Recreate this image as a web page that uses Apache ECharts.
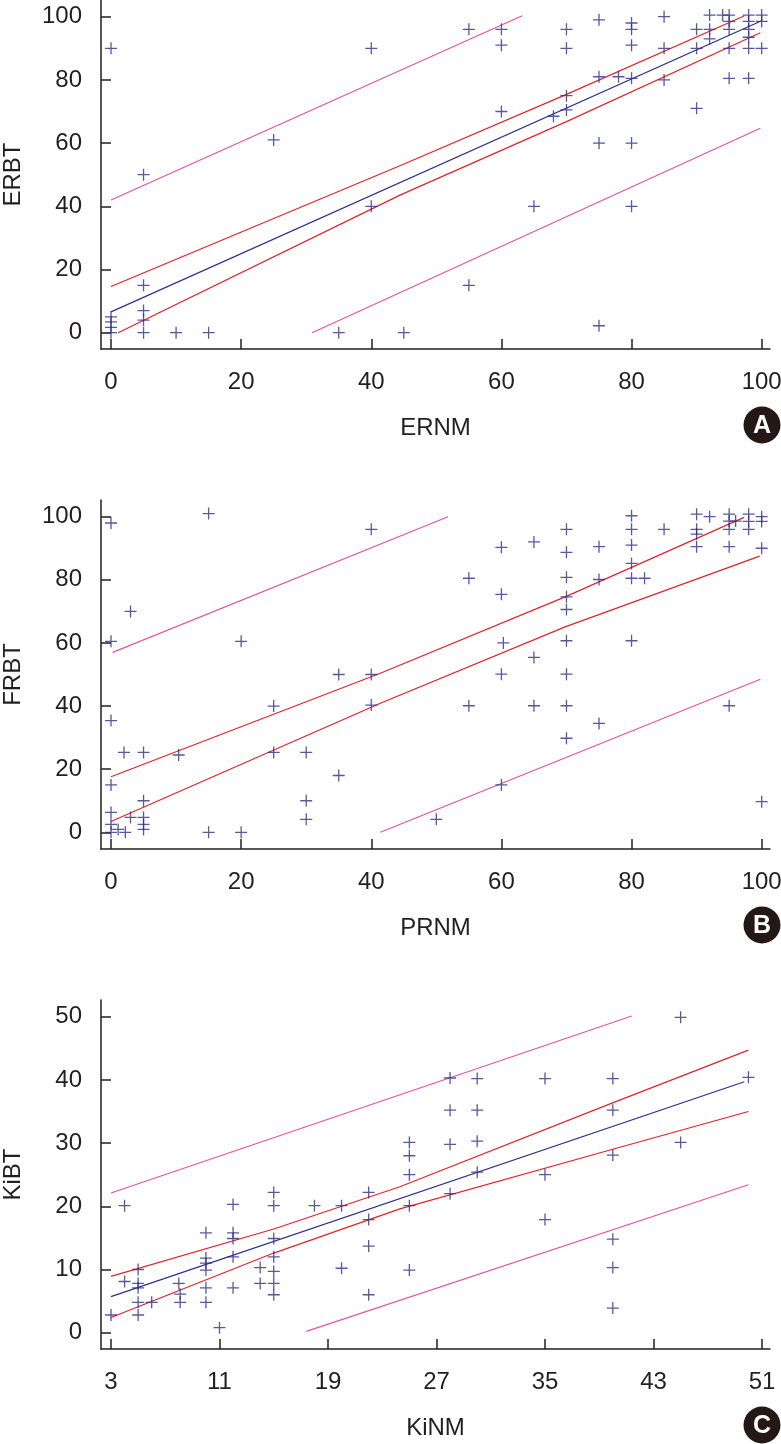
<!DOCTYPE html>
<html>
<head>
<meta charset="utf-8">
<script src="https://cdn.jsdelivr.net/npm/echarts@6/dist/echarts.min.js"></script>
<style>
  html, body { margin: 0; padding: 0; background: #ffffff; }
  #chart { width: 781px; height: 1444px; }
</style>
</head>
<body>
<div id="chart"></div>
<script>
// ---------- Panel A: ERNM vs ERBT ----------
const erNM = [0,40,25,5,5,0,0,0,0,5,5,5,10,15,35,40,
  55,60,60,60,70,70,70,70,68,75,75,78,80,80,80,80,75,80,80,65,55,75,45,
  85,85,85,90,90,90,92,92,92,94,95,95,95,95,95,98,98,98,98,98,98,100,100,100];
const erBT = [90,90,61,50,15,5,3.4,1.7,0,7,4,0,0,0,0,40,
  96,96,91,70,96,90,75,70.5,68.5,99,81,81,98,96,91,80.5,60,60,40,40,15,2.2,0,
  100,90,80,96,90,71,100.5,96,93,100.5,100.5,98.5,96,90,80.5,100.5,98.5,96,93.5,90,80.5,100.5,98.5,90];
const erFit = [[0,6.6],[100,98.7]];
const erCiUpper = [[0,14.6],[44.5,52.9],[70,75.4],[97.3,100.2]];
const erCiLower = [[1.1,0],[44.5,43.6],[70,66.8],[99.8,94.9]];
const erPiUpper = [[0,42],[63.2,100.3]];
const erPiLower = [[30.9,0],[99.8,64.7]];
const erTicksX = [0,20,40,60,80,100];
const erTicksY = [0,20,40,60,80,100];

// ---------- Panel B: PRNM vs FRBT ----------
const prNM = [0,15,40,3,0,20,35,40,25,40,0,2,5,10.4,25,30,35,0,5,30,0,3,5,30,0,5,1.1,5,0,2.2,15,20,
  80,80,80,80,80,80,82,70,70,70,70,70,70,70,70,70,65,65,65,60,60,60.3,60,60,55,55,50,75,75,75,
  85,90,90,90,90,92,95,95,95,95,95,96,98,98,98,100,100,100,100];
const frBT = [98,101,96,70,60.5,60.5,50,50,40,40.3,35.4,25.3,25.3,24.5,25.3,25.3,18,15,10,10,6.3,4.7,4.7,4.1,2.5,2.5,0.9,0.9,0,0,0,0,
  100.3,96,91,85.2,80.5,60.7,80.5,96,88.7,80.8,74.6,70.6,60.7,50.1,40.1,29.8,92,55.4,40.1,90.3,75.4,60,50.1,15,80.5,40.1,4.1,90.5,80.1,34.5,
  96,100.8,96,94.5,90.5,100,100.8,98.6,96,90.5,40.1,98.6,100.8,98.5,96,100,98.5,90,9.7];
const prCiUpper = [[0,17.6],[41.4,50.4],[69.8,74.6],[97.3,99.8]];
const prCiLower = [[0,3.4],[41.4,40.9],[69.8,65.1],[99.7,87.5]];
const prPiUpper = [[0.25,57],[51.8,100]];
const prPiLower = [[41.4,0],[99.8,48.5]];
const prTicksX = [0,20,40,60,80,100];
const prTicksY = [0,20,40,60,80,100];

// ---------- Panel C: KiNM vs KiBT ----------
const kiNM = [3,4,4,5,5,5,5,5,6,8,8.1,8.1,10,10,10,10,10,10,11,12,12,12,12,12,14,14,15,15,15,15,15,15,15,18,20,20,22,22,22,22,
  25,25,25,25,25,28,28,28,28,30,30,30,30,35,35,35,40,40,40,40,40,40,45,45,50];
const kiBT = [2.8,20.1,8.1,10,7.8,7.1,4.8,2.8,4.8,7.8,6.1,4.8,15.8,11.8,11,9.9,7.1,4.8,0.8,20.3,15.8,14.9,12,7.1,10.3,7.8,22.2,20.1,14.9,12,9.7,7.8,6,20.1,20.1,10.2,22.2,17.9,13.7,6,
  30.1,28,25,20.1,9.9,40.3,35.2,29.8,22,40.2,35.2,30.3,25.4,40.2,25,17.9,40.2,35.2,28.1,14.8,10.3,3.9,49.9,30.1,40.4];
const kiFit = [[3,5.7],[49.7,39.7]];
const kiCiUpper = [[3,8.9],[15,16.4],[24.3,23.1],[39.8,36.2],[50,44.7]];
const kiCiLower = [[3,2.4],[15,12.6],[24.3,19.6],[39.8,28.9],[50,35]];
const kiPiUpper = [[3,22.1],[41.4,50.1]];
const kiPiLower = [[17.4,0.2],[50,23.4]];
const kiTicksX = [3,11,19,27,35,43,51];
const kiTicksY = [0,10,20,30,40,50];

// ---------- styling ----------
const FONT = "'Liberation Sans',Arial,sans-serif";
const INK = '#231f20';
const PT = '#2e2e88';
const BLUE = '#2b2f8f';
const RED = '#e2222a';
const PINK = '#e2559c';
const PLUS = 'path://M5.35,0H6.65V5.35H12V6.65H6.65V12H5.35V6.65H0V5.35H5.35Z';

function zip(xs, ys) { return xs.map((x, i) => [x, ys[i]]); }

const panels = [
  { top: 0, xr: [-1.538, 101.28], yr: [-5.16, 105.28], tx: erTicksX, ty: erTicksY, xName: 'ERNM', yName: 'ERBT', tag: 'A',
    pts: zip(erNM, erBT), lines: [[erPiUpper, PINK], [erPiLower, PINK], [erCiUpper, RED], [erCiLower, RED], [erFit, BLUE]] },
  { top: 500, xr: [-1.538, 101.28], yr: [-5.29, 105.29], tx: prTicksX, ty: prTicksY, xName: 'PRNM', yName: 'FRBT', tag: 'B',
    pts: zip(prNM, frBT), lines: [[prPiUpper, PINK], [prPiLower, PINK], [prCiUpper, RED], [prCiLower, RED]] },
  { top: 1000, xr: [2.263, 51.59], yr: [-2.58, 52.64], tx: kiTicksX, ty: kiTicksY, xName: 'KiNM', yName: 'KiBT', tag: 'C',
    pts: zip(kiNM, kiBT), lines: [[kiPiUpper, PINK], [kiPiLower, PINK], [kiCiUpper, RED], [kiCiLower, RED], [kiFit, BLUE]] }
];

const grid = [], xAxis = [], yAxis = [], series = [], graphic = [];
panels.forEach((p, i) => {
  grid.push({ left: 101, width: 669, top: p.top, height: 349, containLabel: false, outerBoundsMode: 'none' });
  const common = {
    type: 'value', gridIndex: i, splitLine: { show: false },
    axisLine: { show: true, onZero: false, lineStyle: { color: INK, width: 1.5 } },
    axisTick: { show: true, inside: true, length: 10, lineStyle: { color: INK, width: 1.5 } },
    nameLocation: 'middle',
    nameTextStyle: { fontFamily: FONT, fontSize: 24, color: INK }
  };
  xAxis.push(Object.assign({}, common, {
    min: p.xr[0], max: p.xr[1], name: p.xName, nameGap: 67,
    axisTick: Object.assign({}, common.axisTick, { customValues: p.tx }),
    axisLabel: { customValues: p.tx, fontFamily: FONT, fontSize: 24, color: INK, margin: 21, hideOverlap: false }
  }));
  yAxis.push(Object.assign({}, common, {
    min: p.yr[0], max: p.yr[1], name: p.yName, nameGap: 76,
    axisTick: Object.assign({}, common.axisTick, { customValues: p.ty }),
    axisLabel: { customValues: p.ty, fontFamily: FONT, fontSize: 24, color: INK, margin: 19, hideOverlap: false }
  }));
  p.lines.forEach(([d, c]) => {
    series.push({ type: 'line', xAxisIndex: i, yAxisIndex: i, data: d, showSymbol: false, silent: true,
      lineStyle: { color: c, width: 1.2 }, z: 2 });
  });
  series.push({ type: 'scatter', xAxisIndex: i, yAxisIndex: i, data: p.pts, symbol: PLUS, symbolSize: 12,
    itemStyle: { color: PT }, z: 3 });
  graphic.push({ type: 'circle', shape: { cx: 762, cy: p.top + 425, r: 18.5 }, style: { fill: '#231815' } });
  graphic.push({ type: 'text', x: 762, y: p.top + 426, style: { text: p.tag, fill: '#ffffff',
    font: "bold 25px 'Liberation Sans',Arial,sans-serif", align: 'center', verticalAlign: 'middle' } });
});

const chart = echarts.init(document.getElementById('chart'), null, { renderer: 'canvas' });
chart.setOption({ animation: false, backgroundColor: '#ffffff', grid, xAxis, yAxis, series, graphic });
</script>
</body>
</html>
